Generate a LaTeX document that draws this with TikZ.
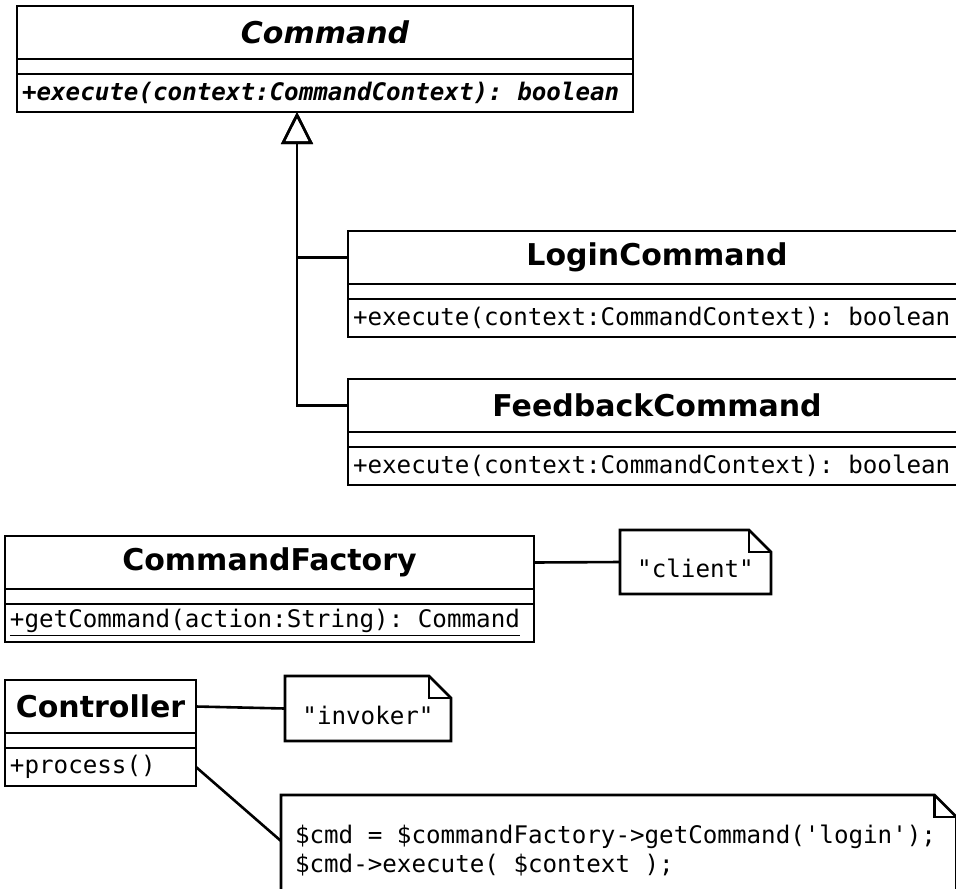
\documentclass[tikz,border=0pt]{standalone}
\usepackage{fontspec}
\setmainfont{DejaVu Sans}
\setmonofont{DejaVu Sans Mono}
\usetikzlibrary{arrows.meta,positioning}
\newcommand{\codefont}{\ttfamily\fontsize{12.1}{14.5}\selectfont}
\newcommand{\ws}{\hphantom{x}}
\newcommand{\dogear}[1]{\draw[uml] (#1.north west)--([xshift=-11pt]#1.north east)--([yshift=-11pt]#1.north east)--(#1.south east)--(#1.south west)--cycle;
\draw[uml] ([xshift=-11pt]#1.north east)|-([yshift=-11pt]#1.north east);}
\tikzset{uml/.style={draw=black,line width=1.3pt},cname/.style={uml,outer sep=0pt,anchor=north west,minimum width=#1,minimum height=26.5pt,inner sep=0pt,font=\bfseries\fontsize{15}{18}\selectfont},cattr/.style={uml,outer sep=0pt,anchor=north west,minimum width=#1,minimum height=7.5pt,inner sep=0pt},cmeth/.style={uml,outer sep=0pt,anchor=north west,text width=#1,minimum height=19pt,inner xsep=2.5pt,inner ysep=0pt,align=left,font=\codefont},note/.style={anchor=north west,outer sep=0pt,minimum width=#1,minimum height=32pt,inner sep=0pt,text height=15.5pt,text depth=0pt,font=\codefont},inh/.style={uml,-{Triangle[open,length=16pt,width=15.8pt]}}}
\begin{document}
\begin{tikzpicture}[x=0.5pt,y=-0.5pt]
\useasboundingbox (0,0) rectangle (956,888);
\node[cname=308pt,font=\bfseries\itshape\fontsize{15}{18}\selectfont] (cmd) at (17,6) {Command};
\node[cattr=308pt] (cmd-a) at (cmd.south west) {};
\node[cmeth=303pt,font=\codefont\bfseries\itshape] (cmd-m) at (cmd-a.south west) {+execute(context:CommandContext):\ws{}boolean};
\coordinate (cmdfoot) at (297,112);
\node[cname=309pt] (login) at (348,231) {LoginCommand};
\node[cattr=309pt] (login-a) at (login.south west) {};
\node[cmeth=304pt] (login-m) at (login-a.south west) {+execute(context:CommandContext):\ws{}boolean};
\node[cname=309pt] (feed) at (348,379) {FeedbackCommand};
\node[cattr=309pt] (feed-a) at (feed.south west) {};
\node[cmeth=304pt] (feed-m) at (feed-a.south west) {+execute(context:CommandContext):\ws{}boolean};
\draw[inh] (login.west) -| (cmdfoot);
\draw[inh] (feed.west) -| (cmdfoot);
\node[cname=264.5pt] (fac) at (5,536) {CommandFactory};
\node[cattr=264.5pt] (fac-a) at (fac.south west) {};
\node[cmeth=259.5pt] (fac-m) at (fac-a.south west) {\underline{+getCommand(action:String):\ws{}Command}};
\node[note=75.5pt] (client) at (620,530) {"client"};
\dogear{client}
\draw[uml] (fac.east) -- (client.west);
\node[cname=95.5pt] (ctrl) at (5,680) {Controller};
\node[cattr=95.5pt] (ctrl-a) at (ctrl.south west) {};
\node[cmeth=90.5pt] (ctrl-m) at (ctrl-a.south west) {+process()};
\node[note=83pt,minimum height=32.5pt] (invoker) at (285,676) {"invoker"};
\dogear{invoker}
\draw[uml] (ctrl.east) -- (invoker.west);
\node[note=337.75pt,text width=323.75pt,align=left,inner xsep=7pt,text height=24pt,text depth=30pt] (code) at (281,795) {\$cmd\ws=\ws\$commandFactory->getCommand('login');\\\$cmd->execute(\ws\$context\ws);};
\dogear{code}
\draw[uml] (ctrl-m.east) -- ([yshift=-23pt]code.north west);
\end{tikzpicture}
\end{document}
